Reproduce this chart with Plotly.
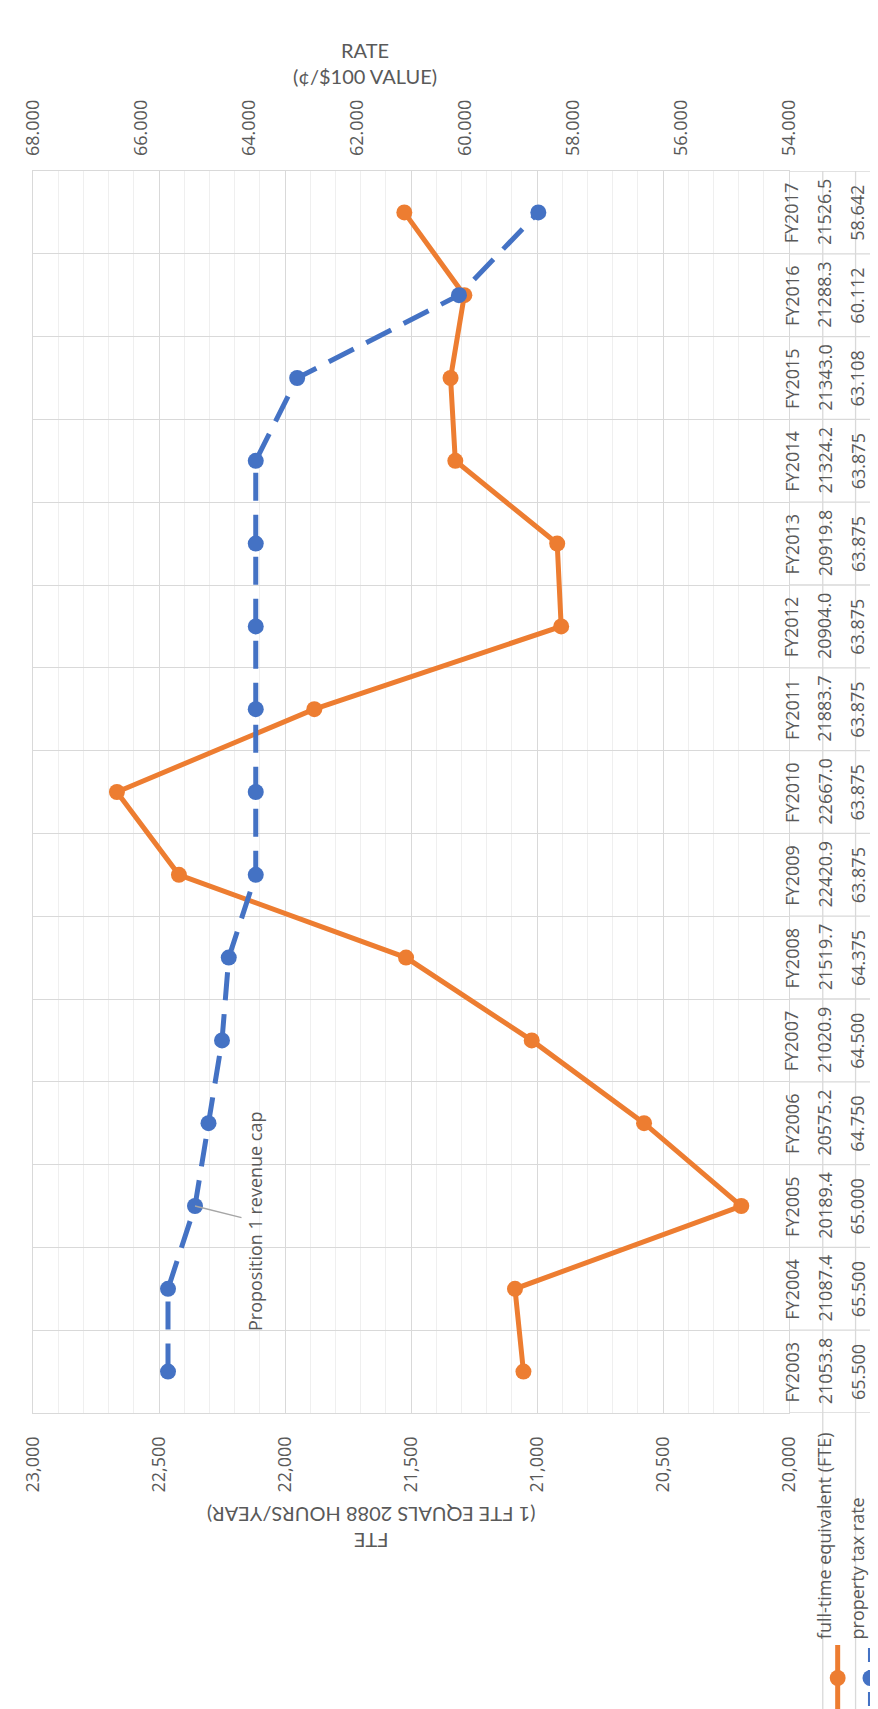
import plotly.graph_objects as go

# ---- data ----
fiscal_years = ["FY2003", "FY2004", "FY2005", "FY2006", "FY2007", "FY2008", "FY2009",
                "FY2010", "FY2011", "FY2012", "FY2013", "FY2014", "FY2015", "FY2016", "FY2017"]
fte_values = [21053.8, 21087.4, 20189.4, 20575.2, 21020.9, 21519.7, 22420.9,
              22667.0, 21883.7, 20904.0, 20919.8, 21324.2, 21343.0, 21288.3, 21526.5]
tax_rate_values = [65.500, 65.500, 65.000, 64.750, 64.500, 64.375, 63.875,
                   63.875, 63.875, 63.875, 63.875, 63.875, 63.108, 60.112, 58.642]
fte_ticks = [20000, 20500, 21000, 21500, 22000, 22500, 23000]
rate_ticks = [54, 56, 58, 60, 62, 64, 66, 68]
annotation_text = "Proposition 1 revenue cap"
annotation_year = "FY2005"

ORANGE = "#ED7D31"
BLUE = "#4472C4"
TXT = "#595959"
GRID = "#d9d9d9"
FONT = "Open Sans"
TFONT = "Lato"

W, H = 878, 1709
L, R, T, B = 20, 781, 163, 1405


def px(x):
    return (x - L) / (R - L)


def py(y):
    return (B - y) / (B - T)


idx = list(range(len(fiscal_years)))

fig = go.Figure()
fig.add_trace(go.Scatter(
    x=fte_values, y=idx, xaxis="x", yaxis="y", mode="lines+markers",
    name="full-time equivalent (FTE)",
    line=dict(color=ORANGE, width=5), marker=dict(color=ORANGE, size=16),
    showlegend=False))
fig.add_trace(go.Scatter(
    x=tax_rate_values, y=idx, xaxis="x2", yaxis="y", mode="lines+markers",
    name="property tax rate",
    line=dict(color=BLUE, width=5, dash="28px,14px"), marker=dict(color=BLUE, size=16),
    showlegend=False))

tickfont = dict(family=FONT, size=18, color=TXT)

fig.update_layout(
    width=W, height=H,
    margin=dict(l=L, r=W - R, t=T, b=H - B),
    paper_bgcolor="white", plot_bgcolor="white",
    xaxis=dict(
        range=[23000, 20000], tickvals=fte_ticks, tickformat=",", tickangle=-90,
        side="bottom", showgrid=True, gridcolor=GRID, gridwidth=1.3,
        minor=dict(dtick=100, showgrid=True, gridcolor="#efefef", gridwidth=1),
        zeroline=False, showline=True, linecolor=GRID, linewidth=1.3, mirror=True,
        ticks="", tickfont=tickfont, ticklabelstandoff=15),
    xaxis2=dict(
        range=[68, 54], tickvals=rate_ticks, ticktext=[f"{v:.3f}" for v in rate_ticks],
        tickangle=-90, overlaying="x", side="top", anchor="y", showgrid=False,
        zeroline=False, ticks="", tickfont=tickfont, ticklabelstandoff=14),
    yaxis=dict(
        range=[-0.5, len(fiscal_years) - 0.5], tickmode="linear", tick0=0.5, dtick=1,
        showgrid=True, gridcolor=GRID, gridwidth=1.3, showticklabels=False,
        zeroline=False, showline=True, linecolor=GRID, linewidth=1.3, mirror=True, ticks=""),
)

shapes = []
# data table row/column lines
for i in range(-1, len(fiscal_years)):
    shapes.append(dict(type="line", xref="paper", yref="y", x0=1, x1=px(W + 2),
                       y0=i + 0.5, y1=i + 0.5, line=dict(color=GRID, width=1.3)))
for xx in (815, 848):
    shapes.append(dict(type="line", xref="paper", yref="paper", x0=px(xx), x1=px(xx),
                       y0=1, y1=py(H + 2), line=dict(color=GRID, width=1.3)))
# legend keys
shapes.append(dict(type="line", xref="paper", yref="paper", x0=px(830), x1=px(830),
                   y0=py(1637), y1=py(1703), line=dict(color=ORANGE, width=5)))
shapes.append(dict(type="circle", xref="paper", yref="paper", x0=px(822), x1=px(838),
                   y0=py(1662), y1=py(1678), fillcolor=ORANGE, line=dict(width=0)))
shapes.append(dict(type="line", xref="paper", yref="paper", x0=px(863), x1=px(863),
                   y0=py(1640), y1=py(1706), line=dict(color=BLUE, width=5, dash="14px,8px")))
shapes.append(dict(type="circle", xref="paper", yref="paper", x0=px(855), x1=px(871),
                   y0=py(1662), y1=py(1678), fillcolor=BLUE, line=dict(width=0)))
fig.update_layout(shapes=shapes)

ann = []
tfont = dict(family=FONT, size=18, color=TXT)
for i, name in enumerate(fiscal_years):
    ann.append(dict(x=px(798), xref="paper", y=i, yref="y", text=name, textangle=-90,
                    showarrow=False, font=tfont))
    ann.append(dict(x=px(831), xref="paper", y=i, yref="y", text=f"{fte_values[i]:.1f}",
                    textangle=-90, showarrow=False, font=tfont))
    ann.append(dict(x=px(864), xref="paper", y=i, yref="y", text=f"{tax_rate_values[i]:.3f}",
                    textangle=-90, showarrow=False, font=tfont))

# legend labels
ann.append(dict(x=px(830), xref="paper", y=py(1633), yref="paper", yanchor="bottom",
                text="full-time equivalent (FTE)", textangle=-90, showarrow=False,
                font=dict(family=FONT, size=18, color=TXT)))
ann.append(dict(x=px(864), xref="paper", y=py(1633), yref="paper", yanchor="bottom",
                text="property tax rate", textangle=-90, showarrow=False,
                font=dict(family=FONT, size=18, color=TXT)))

# axis titles
ann.append(dict(x=px(354), xref="paper", y=py(28), yref="paper", text="RATE<br>(¢/$100 VALUE)",
                showarrow=False, font=dict(family=TFONT, size=20, color=TXT)))
ann.append(dict(x=px(360), xref="paper", y=py(1547), yref="paper",
                text="FTE<br>(1 FTE EQUALS 2088 HOURS/YEAR)", textangle=180,
                showarrow=False, font=dict(family=TFONT, size=20, color=TXT)))

# callout
k = fiscal_years.index(annotation_year)
ann.append(dict(x=tax_rate_values[k], xref="x2", y=k, yref="y", text=annotation_text,
                textangle=-90, showarrow=True, arrowhead=0, arrowwidth=1.5,
                arrowcolor="#a6a6a6", ax=60, ay=15,
                font=dict(family=FONT, size=18, color=TXT)))

fig.update_layout(annotations=ann)

fig.write_html("out.html")
